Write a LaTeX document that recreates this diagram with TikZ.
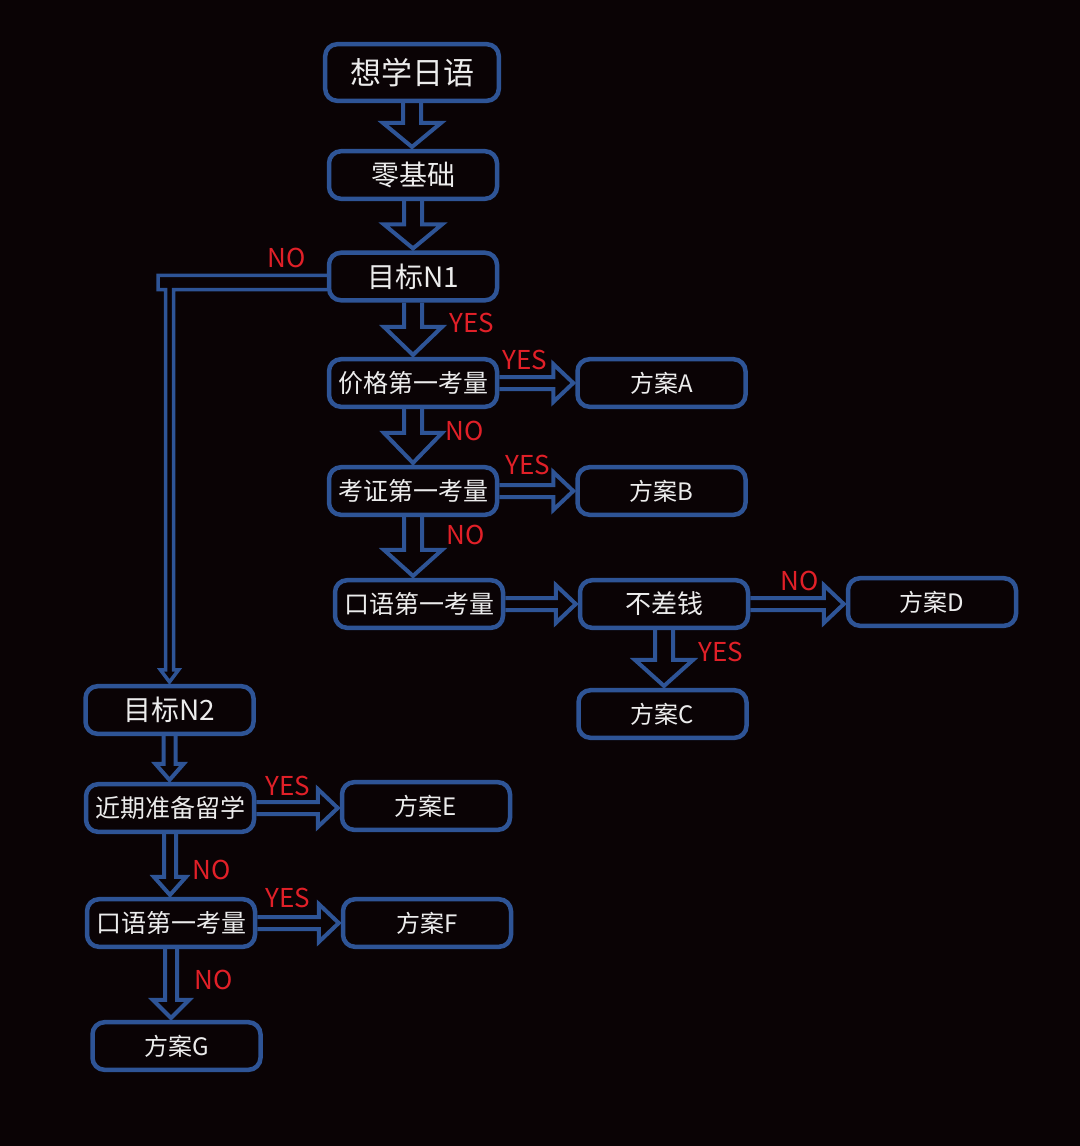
\documentclass[tikz,border=0pt]{standalone}
\usepackage{fontspec}
\newfontfamily\cjk{Noto Sans CJK SC}
\usetikzlibrary{calc}

\definecolor{bgcol}{RGB}{10,3,5}
\definecolor{boxblue}{RGB}{46,84,150}
\definecolor{ansred}{RGB}{225,32,40}
\definecolor{txtwhite}{RGB}{236,236,236}

\tikzset{
  stepbox/.style={draw=boxblue, line width=2.25pt, rounded corners=6pt, fill=bgcol,
    text=txtwhite, minimum width=84pt, minimum height=23.8pt, inner sep=2pt,
    font=\cjk\fontsize{12.5}{14}\selectfont},
  blockarrow/.style={draw=boxblue, line width=2pt, line join=miter},
  answer/.style={text=ansred, inner sep=0pt, font=\cjk\fontsize{13}{15}\selectfont},
}

% hollow block arrows: source, target, shaft half width, head half width, head length
\newcommand{\vblock}[5]{%
  \draw[blockarrow] let \p1=(#1.south), \p2=(#2.north) in
    (\x1-#3,\y1) -- (\x1-#3,\y2+#5) -- (\x1-#4,\y2+#5) -- (\x1,\y2+1pt)
    -- (\x1+#4,\y2+#5) -- (\x1+#3,\y2+#5) -- (\x1+#3,\y1);}
\newcommand{\hblock}[5]{%
  \draw[blockarrow] let \p1=(#1.east), \p2=(#2.west) in
    (\x1,\y1+#3) -- (\x2-#5,\y1+#3) -- (\x2-#5,\y1+#4) -- (\x2-1pt,\y1)
    -- (\x2-#5,\y1-#4) -- (\x2-#5,\y1-#3) -- (\x1,\y1-#3);}

\begin{document}
\begin{tikzpicture}[x=0.5pt, y=-0.5pt]
% Background
\fill[bgcol] (0,0) rectangle (1080,1146);
\useasboundingbox (0,0) rectangle (1080,1146);
% Main column
\node[stepbox, minimum width=86.8pt, minimum height=28.3pt,
  font=\cjk\fontsize{15.5}{17}\selectfont] (start) at (412,72.5) {想学日语};
\node[stepbox, font=\cjk\fontsize{14}{16}\selectfont] (basic) at (413,175) {零基础};
\node[stepbox, font=\cjk\fontsize{14}{16}\selectfont] (goalone) at (413,276.5) {目标N1};
\node[stepbox] (price) at (413,383) {价格第一考量};
\node[stepbox, font=\cjk\fontsize{12}{14}\selectfont] (planA) at (661.5,383) {方案A};
\node[stepbox] (cert) at (413,491) {考证第一考量};
\node[stepbox, font=\cjk\fontsize{12}{14}\selectfont] (planB) at (661.5,491) {方案B};
\node[stepbox] (speakone) at (419,604) {口语第一考量};
\node[stepbox, font=\cjk\fontsize{13}{15}\selectfont] (rich) at (664,604) {不差钱};
\node[stepbox, font=\cjk\fontsize{12}{14}\selectfont] (planD) at (932,602) {方案D};
\node[stepbox, font=\cjk\fontsize{12}{14}\selectfont] (planC) at (662.5,714) {方案C};
% N2 column
\node[stepbox, font=\cjk\fontsize{14}{16}\selectfont] (goaltwo) at (169.5,710) {目标N2};
\node[stepbox] (abroad) at (170,808) {近期准备留学};
\node[stepbox, font=\cjk\fontsize{12}{14}\selectfont] (planE) at (426,806) {方案E};
\node[stepbox] (speaktwo) at (171,923) {口语第一考量};
\node[stepbox, font=\cjk\fontsize{12}{14}\selectfont] (planF) at (427,923) {方案F};
\node[stepbox, font=\cjk\fontsize{12}{14}\selectfont] (planG) at (176.5,1046) {方案G};
% Arrows
\vblock{start}{basic}{4.5pt}{14.5pt}{13pt}
\vblock{basic}{goalone}{4.5pt}{14.5pt}{13pt}
\vblock{goalone}{price}{4.5pt}{14.5pt}{15pt}
\vblock{price}{cert}{4.5pt}{14.5pt}{16pt}
\vblock{cert}{speakone}{4.5pt}{14.5pt}{14pt}
\vblock{rich}{planC}{4.5pt}{14.5pt}{14pt}
\hblock{price}{planA}{3pt}{9.5pt}{11pt}
\hblock{cert}{planB}{3pt}{9.5pt}{11pt}
\hblock{speakone}{rich}{3pt}{9.5pt}{11pt}
\hblock{rich}{planD}{3pt}{9.5pt}{11pt}
\hblock{abroad}{planE}{3pt}{9.5pt}{11pt}
\hblock{speaktwo}{planF}{3pt}{9.5pt}{11pt}
\vblock{goaltwo}{abroad}{3pt}{7pt}{9pt}
\vblock{abroad}{speaktwo}{3pt}{8pt}{10pt}
\vblock{speaktwo}{planG}{3pt}{9pt}{10pt}
% NO branch to N2
\draw[blockarrow, line width=1.75pt] let \p1=(goalone.west), \p2=(goaltwo.north) in
  (\x1,\y1+0.6pt) -- (\x2-5.75pt,\y1+0.6pt) -- (\x2-5.75pt,\y1-6.6pt)
  -- (\x2-2pt,\y1-6.6pt) -- (\x2-2pt,\y2+7pt) -- (\x2-4.5pt,\y2+7pt)
  -- (\x2,\y2+1pt) -- (\x2+4.5pt,\y2+7pt) -- (\x2+2pt,\y2+7pt)
  -- (\x2+2pt,\y1-6.6pt) -- (\x1,\y1-6.6pt);
% Answers
\node[answer] at (287,258) {NO};
\node[answer] at (472,323) {YES};
\node[answer] at (525,360) {YES};
\node[answer] at (465,431) {NO};
\node[answer] at (528,465) {YES};
\node[answer] at (466,535) {NO};
\node[answer] at (800,581) {NO};
\node[answer] at (721,652) {YES};
\node[answer] at (288,786) {YES};
\node[answer] at (212,870) {NO};
\node[answer] at (288,898) {YES};
\node[answer] at (214,980) {NO};
\end{tikzpicture}
\end{document}
